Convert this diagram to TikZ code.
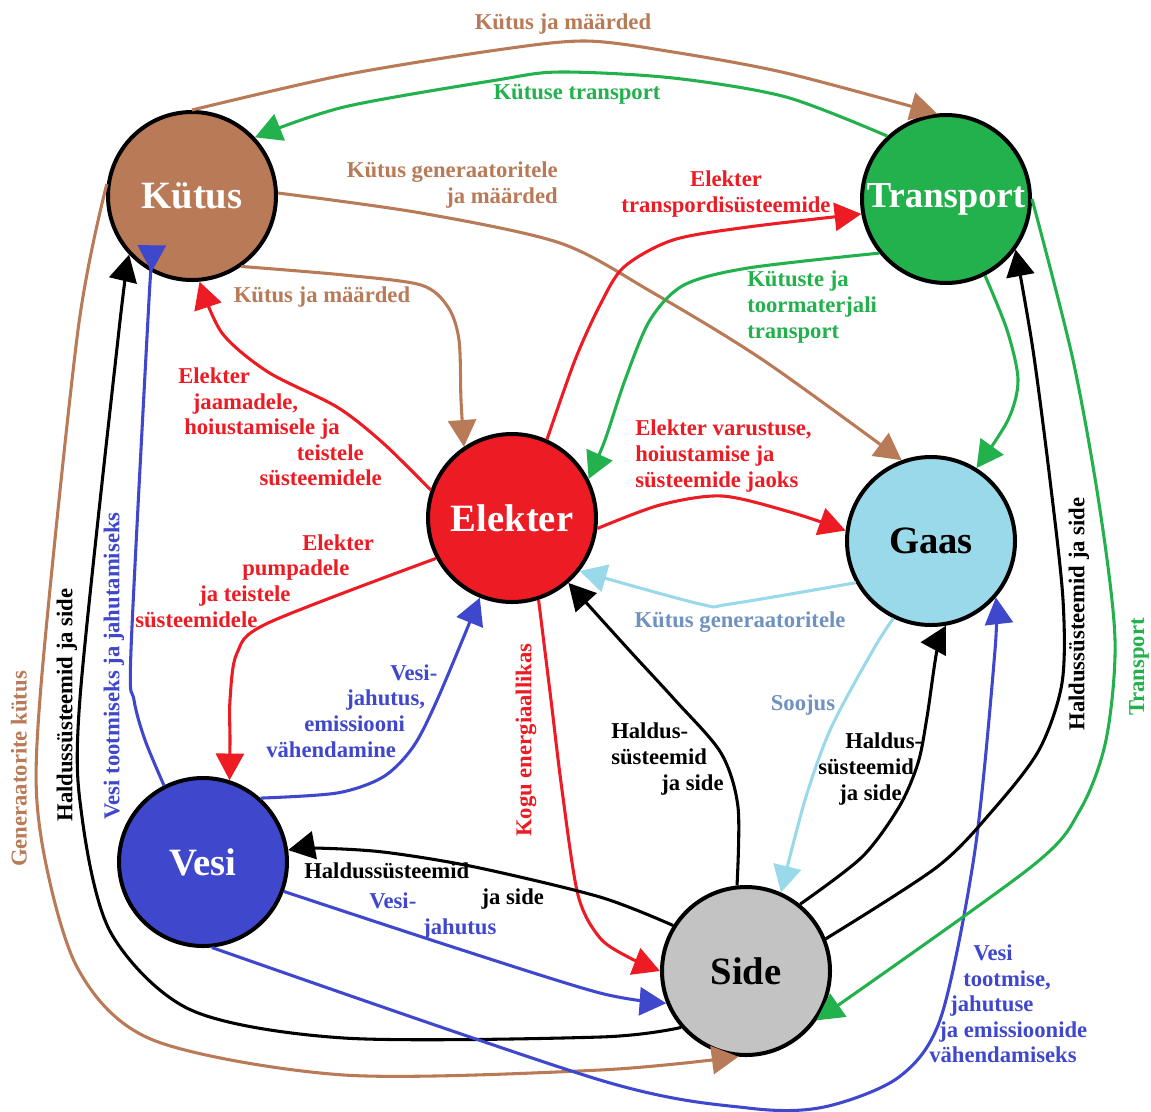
\documentclass[tikz,border=0pt]{standalone}
\usepackage{fontspec}
\setmainfont{Liberation Serif}
\usetikzlibrary{arrows.meta}
\definecolor{cbrown}{RGB}{185,122,87}
\definecolor{cgreen}{RGB}{34,177,76}
\definecolor{cred}{RGB}{237,28,36}
\definecolor{clblue}{RGB}{153,217,234}
\definecolor{cblue}{RGB}{63,72,204}
\definecolor{cgray}{RGB}{195,195,195}
\definecolor{cbgray}{RGB}{112,146,190}
\newcommand\lblfont{\bfseries\fontsize{17}{19.2}\selectfont}
\newcommand\hubfont{\bfseries\fontsize{29}{32}\selectfont}
\tikzset{
  hub/.style={circle, draw=black, line width=3pt, minimum size=126pt, inner sep=0pt, font=\hubfont},
  conn/.style={line width=2.3pt},
  arr/.style={-{Triangle[length=20pt,width=21pt]}},
  lbl/.style={font=\lblfont, inner sep=0pt},
}
\begin{document}
\begin{tikzpicture}[x=0.75pt,y=-0.75pt]
\fill[white] (0,0) rectangle (1151,1111);
\useasboundingbox (0,0) rectangle (1151,1111);

% hubs
\node[hub, fill=cbrown, text=white] (kutus) at (192,196) {Kütus};
\node[hub, fill=cgreen, text=white, font=\bfseries\fontsize{27.5}{30}\selectfont] (transport) at (946,199) {Transport};
\node[hub, fill=cred, text=white] (elekter) at (512,518) {Elekter};
\node[hub, fill=clblue, text=black] (gaas) at (931,541) {Gaas};
\node[hub, fill=cblue, text=white] (vesi) at (203,862) {Vesi};
\node[hub, fill=cgray, text=black] (side) at (746,971) {Side};

% connectors
\draw[conn, arr, cbrown] plot[smooth] coordinates {(kutus.90) (344,75) (497,50) (586,41) (673,52) (786,73) (transport.96)};
\draw[conn, arr, cgreen] plot[smooth] coordinates {(transport.133) (786,97) (673,78) (560,72) (497,80) (344,107) (kutus.43)};
\draw[conn, arr, cbrown] plot[smooth] coordinates {(kutus.2) (421,213) (560,243) (650,291) (763,360) (gaas.110)};
\draw[conn, arr, cbrown] plot[smooth] coordinates {(kutus.-55) (344,275) (421,285) (448,307) (459,340) (461,400) (elekter.124)};
\draw[conn, arr, cred] plot[smooth] coordinates {(elekter.161) (383,443) (337,407) (268,372) (222,333) (kutus.-85)};
\draw[conn, arr, cred] plot[smooth] coordinates {(elekter.-152) (268,623) (237,653) (230,700) (230,740) (vesi.72)};
\draw[conn, arr, cblue] plot[smooth] coordinates {(vesi.48) (337,793) (383,777) (413,747) (438,698) (elekter.-112)};
\draw[conn, arr, cblue] plot[smooth] coordinates {(vesi.117) (145,740) (134,700) (131,650) (149,300) (kutus.-118)};
\draw[conn, arr, black] plot[smooth] coordinates {(side.-139) (600,1037) (344,1038) (191,1010) (111,933) (82,817) (80,698) (119,330) (kutus.-137)};
\draw[conn, arr, cbrown] plot[smooth] coordinates {(kutus.172) (78,330) (40,698) (40,830) (77,967) (153,1040) (344,1075) (600,1070) (side.-95)};
\draw[conn, arr, cblue] plot[smooth] coordinates {(vesi.-20) (459,949) (600,993) (side.-158)};
\draw[conn, arr, cblue] plot[smooth] coordinates {(vesi.-84) (600,1080) (748,1108) (824,1107) (899,1077) (941,1017) (975,850) (995,650) (gaas.-41)};
\draw[conn, arr, cred] plot[smooth] coordinates {(elekter.-72) (551,700) (562,790) (578,895) (600,938) (630,958) (side.180)};
\draw[conn, arr, black] plot[smooth] coordinates {(side.148) (600,897) (475,867) (383,852) (314,848) (vesi.8)};
\draw[conn, arr, black] plot[smooth] coordinates {(side.96) (738,807) (721,753) (675,700) (629,650) (elekter.-49)};
\draw[conn, arr, black] plot[smooth] coordinates {(side.51) (862,857) (899,807) (918,763) (927,717) (937,650) (gaas.-80)};
\draw[conn, arr, black] plot[smooth] coordinates {(side.22) (937,867) (993,810) (1039,750) (1062,683) (1063,600) (1050,480) (1033,350) (transport.-36)};
\draw[conn, arr, cgreen] plot[smooth] coordinates {(transport.-63) (1007,330) (1018,380) (1008,420) (gaas.58)};
\draw[conn, arr, cgreen] plot[smooth] coordinates {(transport.219) (748,268) (684,285) (650,320) (625,380) (605,440) (elekter.27)};
\draw[conn, arr, cgreen] plot[smooth] coordinates {(transport.0) (1073,360) (1100,510) (1115,640) (1106,740) (1080,810) (1031,867) (side.-35)};
\draw[conn, arr, cred] plot[smooth] coordinates {(elekter.66) (575,360) (600,305) (624,267) (673,240) (748,227) (transport.190)};
\draw[conn, arr, cred] plot[smooth] coordinates {(elekter.-7) (660,505) (722,496) (790,512) (gaas.173)};
\draw[conn, arr, clblue] plot[smooth] coordinates {(gaas.-151) (730,604) (700,604) (elekter.-38)};
\draw[conn, arr, clblue] plot[smooth] coordinates {(gaas.-116) (873,650) (831,728) (805,800) (side.66)};

% labels
\node[lbl, text=cbrown] (l1) at (563,24) {Kütus ja määrded};
\node[lbl, text=cgreen] (l2) at (577,94) {Kütuse transport};
\node[lbl, text=cbrown, align=right, anchor=east] (l3) at (558,185) {Kütus generaatoritele\\ja määrded};
\node[lbl, text=cbrown] (l4) at (322,297) {Kütus ja määrded};
\node[lbl, text=cred, align=center] (l5) at (726,194) {Elekter\\transpordisüsteemide};
\node[lbl, text=cgreen, align=left, anchor=west] (l6) at (747,307) {Kütuste ja\\toormaterjali\\transport};
\node[lbl, text=cred, align=left, anchor=west] (l7) at (178,427) {Elekter\\\hspace*{11pt}jaamadele,\\\hspace*{4.5pt}hoiustamisele ja\\\hspace*{89pt}teistele\\\hspace*{61pt}süsteemidele};
\node[lbl, text=cred, align=left, anchor=west] (l8) at (635,456) {Elekter varustuse,\\hoiustamise ja\\süsteemide jaoks};
\node[lbl, text=cbgray] (l9) at (740,622) {Kütus generaatoritele};
\node[lbl, text=cred, align=left, anchor=west] (l10) at (135,581) {\hspace*{125.25pt}Elekter\\\hspace*{80.25pt}pumpadele\\\hspace*{48pt}ja teistele\\süsteemidele};
\node[lbl, text=cblue, align=left, anchor=west] (l11) at (266,711) {\hspace*{93pt}Vesi-\\\hspace*{60pt}jahutus,\\\hspace*{28.5pt}emissiooni\\vähendamine};
\node[lbl, text=cbgray] (l12) at (803,705) {Soojus};
\node[lbl, text=black, align=left, anchor=west] (l13) at (611,759) {Haldus-\\süsteemid\\\hspace*{37.5pt}ja side};
\node[lbl, text=black, align=left, anchor=west] (l14) at (818,769) {\hspace*{20.25pt}Haldus-\\süsteemid\\\hspace*{15.75pt}ja side};
\node[lbl, text=cred, rotate=90] (l15) at (526,740) {Kogu energiaallikas};
\node[lbl, text=black, align=left, anchor=west] (l16) at (304,886) {Haldussüsteemid\\\hspace*{133pt}ja side};
\node[lbl, text=cblue, align=left, anchor=west] (l17) at (369,916) {Vesi-\\\hspace*{40.5pt}jahutus};
\node[lbl, text=cblue, align=left, anchor=west] (l18) at (929,1004) {\hspace*{33pt}Vesi\\\hspace*{25.5pt}tootmise,\\\hspace*{15.75pt}jahutuse\\\hspace*{7.5pt}ja emissioonide\\vähendamiseks};
\node[lbl, text=cblue, rotate=90] (l19) at (114,666) {Vesi tootmiseks ja jahutamiseks};
\node[lbl, text=black, rotate=90] (l20) at (67,705) {Haldussüsteemid ja side};
\node[lbl, text=cbrown, rotate=90] (l21) at (19,769) {Generaatorite kütus};
\node[lbl, text=black, rotate=90] (l22) at (1079,614) {Haldussüsteemid ja side};
\node[lbl, text=cgreen, rotate=90] (l23) at (1139,667) {Transport};
\end{tikzpicture}
\end{document}
